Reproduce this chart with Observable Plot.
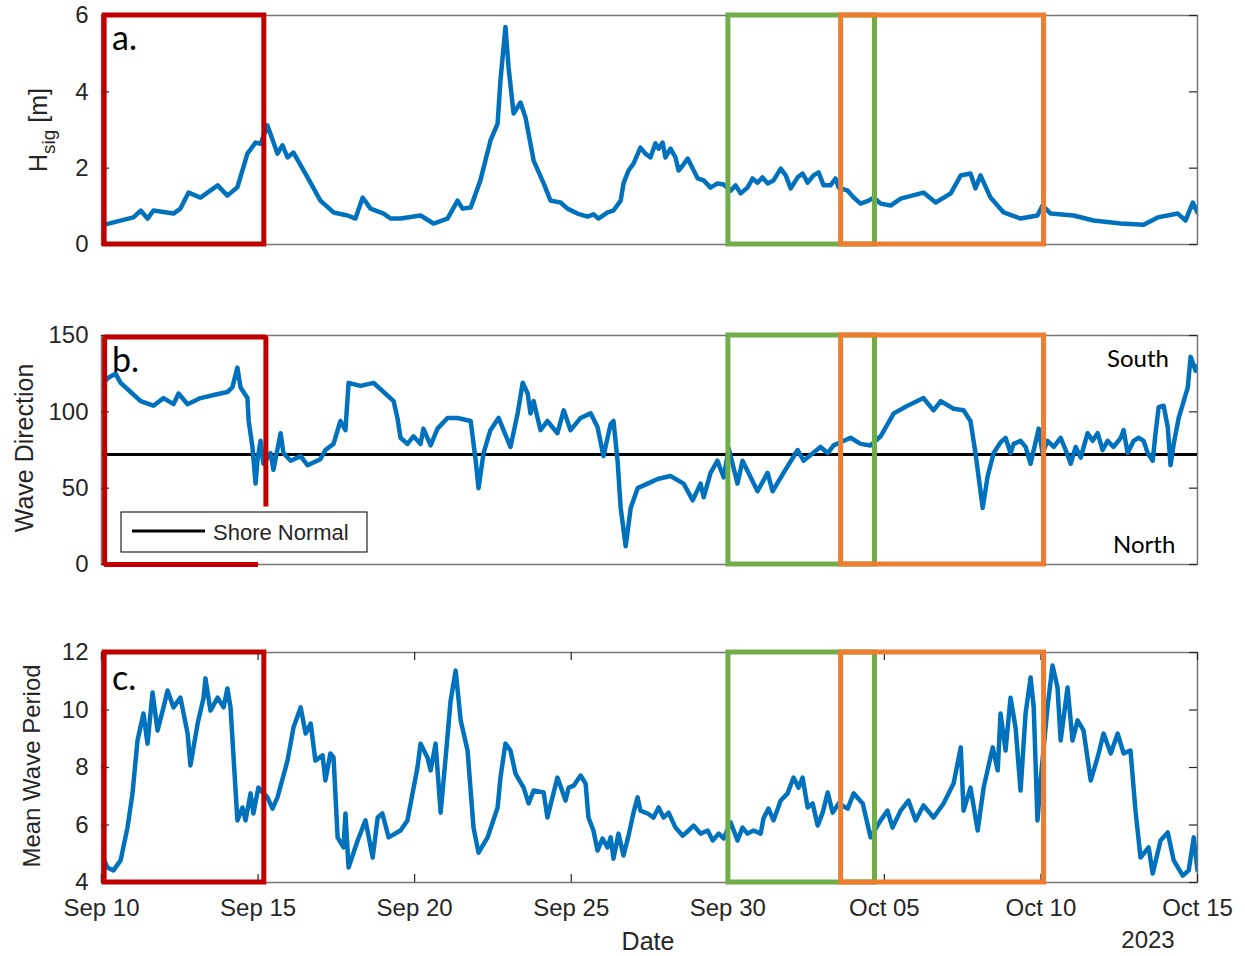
<!DOCTYPE html>
<html><head><meta charset="utf-8">
<script src="https://cdn.jsdelivr.net/npm/d3@7"></script>
<script src="https://cdn.jsdelivr.net/npm/@observablehq/plot@0.6"></script>
<style>
body{margin:0;background:#fff;}
#fig{position:relative;width:1245px;height:956px;background:#fff;overflow:hidden;}
.panel{position:absolute;left:0;}
.panel svg{overflow:visible;}
</style></head><body><div id="fig"></div>
<script>
// ---- data (days since 2023-09-10 00:00 UTC) ----
const hsigDays = [0,1.02,1.25,1.47,1.66,2.30,2.52,2.78,3.16,3.71,4.02,4.34,4.66,4.92,5.08,5.30,5.62,5.78,5.94,6.13,6.58,6.99,7.41,7.86,8.11,8.34,8.59,9.01,9.23,9.55,10.19,10.60,11.05,11.37,11.53,11.79,12.10,12.42,12.65,12.74,12.90,13.00,13.16,13.38,13.54,13.80,14.12,14.34,
  14.66,14.88,15.20,15.52,15.71,15.87,16.16,16.35,16.58,16.67,16.83,16.99,17.21,17.37,17.53,17.69,17.79,17.92,18.01,18.17,18.33,18.43,18.56,18.72,18.88,19.04,19.23,19.45,19.67,19.87,20.09,20.25,20.41,20.63,20.79,20.95,21.11,21.27,21.46,21.69,21.85,22.01,22.23,22.39,22.55,22.74,22.90,23.06,23.28,23.44,23.54,23.83,24.02,24.24,24.50,24.66,24.88,25.20,25.52,
  26.25,26.64,27.12,27.44,27.75,27.91,28.07,28.39,28.81,29.35,29.89,30.05,30.31,31.04,31.68,32.55,33.28,33.73,34.37,34.62,34.85,35.0];
const hsigVals = [0.5,0.71,0.89,0.68,0.89,0.81,0.94,1.36,1.23,1.55,1.28,1.5,2.38,2.67,2.64,3.12,2.38,2.6,2.28,2.41,1.76,1.15,0.84,0.76,0.68,1.23,0.94,0.81,0.68,0.68,0.76,0.55,0.68,1.15,0.94,0.97,1.68,2.72,3.17,4.3,5.7,4.64,3.43,3.72,3.33,2.2,1.6,1.15,
  1.10,0.94,0.81,0.73,0.79,0.68,0.84,0.89,1.15,1.60,1.94,2.12,2.54,2.38,2.28,2.65,2.51,2.67,2.28,2.51,2.28,1.94,2.07,2.25,1.99,1.73,1.68,1.49,1.6,1.57,1.41,1.55,1.34,1.49,1.73,1.62,1.76,1.6,1.68,1.99,1.81,1.47,1.76,1.86,1.62,1.81,1.89,1.55,1.55,1.73,1.49,1.41,1.23,1.07,1.15,1.23,1.07,1.02,1.2,
  1.36,1.1,1.34,1.81,1.86,1.47,1.81,1.23,0.84,0.68,0.76,1.02,0.81,0.76,0.63,0.55,0.52,0.71,0.81,0.63,1.1,0.84];

const dirDays = [0,0.19,0.45,0.61,0.93,1.25,1.66,1.98,2.30,2.46,2.75,3.16,3.58,4.02,4.18,4.34,4.44,4.66,4.70,4.82,4.92,4.98,5.08,5.17,5.40,5.49,5.72,5.81,6.04,6.36,6.58,6.99,7.15,7.41,7.63,7.79,7.89,8.27,8.69,9.01,9.33,9.45,9.55,9.77,9.96,10.19,10.28,10.51,10.73,11.05,11.37,11.79,11.95,12.04,12.20,12.42,12.68,13.06,13.29,13.45,13.61,13.70,13.80,14.02,14.24,14.56,14.76,14.98,15.30,15.62,15.84,16.03,16.26,16.35,16.48,16.58,16.74,16.90,17.12,17.44,17.76,18.17,18.59,18.88,19.13,19.23,19.45,19.67,19.87,20.03,20.31,20.47,20.95,21.27,21.43,21.78,22.23,22.42,22.96,23.19,23.38,23.92,24.24,24.56,24.88,25.30,25.74,26.25,26.57,26.80,27.21,27.53,27.75,27.91,28.14,
  28.30,28.49,28.71,28.87,29.03,29.13,29.35,29.51,29.67,29.77,29.93,30.05,30.21,30.41,30.63,30.79,30.95,31.11,31.27,31.49,31.65,31.81,31.97,32.13,32.32,32.55,32.64,32.77,32.96,33.12,33.28,33.41,33.57,33.66,33.76,33.92,34.05,34.14,34.24,34.40,34.56,34.69,34.78,34.94,35.0];
const dirVals = [117,122,125,119,113,107,104,109,105,112,105,109,111,113,116,129,116,109,94,77,53,68,81,66,73,62,86,73,68,71,65,69,75,79,94,88,119,117,119,113,107,96,83,79,84,79,89,78,89,96,96,94,68,50,73,88,96,77,99,119,112,99,107,88,94,86,101,88,96,99,90,71,92,94,68,37,12,37,50,53,56,58,53,42,53,44,60,68,57,76,53,68,48,60,48,60,75,68,77,73,78,83,79,78,84,99,104,109,101,107,102,101,94,73,37,
  58,73,80,83,73,79,81,77,66,75,89,73,81,77,83,75,66,77,70,86,81,86,75,81,77,83,88,73,81,83,81,73,68,86,103,104,90,65,79,96,107,116,136,127,130];

const perDays = [0,0.19,0.38,0.61,0.83,0.99,1.15,1.34,1.47,1.63,1.79,1.98,2.11,2.30,2.52,2.75,2.84,3.07,3.26,3.32,3.48,3.71,3.90,4.02,4.12,4.34,4.50,4.60,4.76,4.85,5.01,5.30,5.46,5.62,5.94,6.13,6.36,6.52,6.68,6.83,7.06,7.15,7.31,7.41,7.54,7.73,7.79,7.89,8.18,8.43,8.66,8.82,8.97,9.17,9.55,9.77,10.09,10.19,10.41,10.51,10.67,10.83,10.99,11.15,11.31,11.47,11.69,11.88,12.04,12.33,12.65,12.74,12.90,13.06,13.22,13.48,13.64,13.80,14.12,14.24,14.56,
  14.82,14.92,15.08,15.30,15.46,15.55,15.71,15.84,16.00,16.16,16.26,16.35,16.51,16.67,16.83,16.99,17.12,17.21,17.44,17.63,17.79,17.95,18.11,18.33,18.56,18.75,18.91,19.13,19.36,19.52,19.71,19.87,20.09,20.31,20.47,20.63,20.82,21.05,21.14,21.30,21.46,21.69,21.91,22.10,22.26,22.39,22.55,22.71,22.87,23.03,23.19,23.35,23.54,23.83,
  24.02,24.31,24.56,24.88,25.10,25.26,25.52,25.77,26.00,26.25,26.57,26.89,27.21,27.44,27.53,27.75,27.98,28.17,28.46,28.62,28.71,28.87,29.03,29.19,29.35,29.51,29.67,29.77,29.89,29.99,30.21,30.37,30.53,30.63,30.85,31.01,31.17,31.36,31.59,31.81,32.00,32.23,32.45,32.64,32.86,33.02,33.18,33.44,33.57,33.82,34.05,34.24,34.53,34.72,34.88,35.0];
const perVals = [5.0,4.52,4.42,4.77,5.91,7.1,8.94,9.88,8.83,10.61,9.29,10.09,10.68,10.09,10.43,9.18,8.07,9.53,10.43,11.1,9.98,10.43,10.09,10.75,10.09,6.16,6.61,6.16,7.1,6.4,7.3,6.96,6.57,6.96,8.24,9.39,10.09,9.18,9.53,8.24,8.42,7.55,8.49,8.35,5.57,5.22,6.4,4.52,5.46,6.16,4.87,6.26,6.4,5.57,5.81,6.16,8.0,8.83,8.35,7.9,8.83,6.43,8.35,10.33,11.37,9.64,8.59,5.91,5.04,5.57,6.61,7.65,8.83,8.59,7.79,7.3,6.75,7.2,7.13,6.26,7.65,
  6.85,7.3,7.37,7.72,7.44,6.26,5.81,5.11,5.53,5.22,5.57,4.83,5.7,4.94,5.63,6.43,6.96,6.5,6.4,6.26,6.61,6.26,6.43,5.91,5.63,5.81,5.98,5.7,5.81,5.46,5.7,5.53,6.09,5.46,5.91,5.7,5.81,5.7,6.23,6.57,6.16,6.85,7.1,7.65,7.3,7.65,6.61,6.75,5.98,6.43,7.13,6.43,6.75,6.57,
  7.1,6.75,5.57,6.16,6.5,5.91,6.5,6.85,6.16,6.68,6.26,6.75,7.44,8.7,6.5,7.3,5.81,7.3,8.7,7.9,9.88,8.59,10.43,9.39,7.2,9.88,11.13,10.09,6.16,7.55,10.09,11.55,10.78,8.94,10.78,8.94,9.64,9.29,7.55,8.35,9.18,8.49,9.18,8.49,8.59,6.5,4.87,5.22,4.31,5.46,5.74,4.77,4.24,4.42,5.57,4.42];

const shoreNormal = 72;
const hsigTicks = [0, 2, 4, 6];
const dirTicks = [0, 50, 100, 150];
const perTicks = [4, 6, 8, 10, 12];
const xTickDays = [0, 5, 10, 15, 20, 25, 30, 35];
const xTickLabels = ["Sep 10", "Sep 15", "Sep 20", "Sep 25", "Sep 30", "Oct 05", "Oct 10", "Oct 15"];

// highlighted windows (days since Sep 10)
const winColors = ["#C00000", "#70AD47", "#ED7D31"];
const winStart = [0.1, 20.02, 23.62];
const winEnd = [5.2, 24.7, 30.1];
// hand-drawn red outline in panel b (open shape)
const redBDays = [5.0, 0.1, 0.1, 5.25, 5.25];
const redBVals = [0, 0, 149, 149, 38];

// ---- helpers ----
const START = Date.UTC(2023, 8, 10);
const DAY = 864e5;
const toDate = d => new Date(START + d * DAY);
const W = 1245, ML = 101, MR = 48;
const x0 = toDate(0), xEnd = toDate(35);
const tickDays = 8 * 35 / (W - ML - MR);
const FONT = "Liberation Sans, Arial, Helvetica, sans-serif";
const ANN = "Lato, Carlito, sans-serif";
const INK = "#262626";

function series(days, vals) { return days.map((d, i) => ({t: toDate(d), v: vals[i]})); }

function makePanel({top, height, mt, mb, data, yDomain, yTicks, xAxis, extra = [], redOpen = false}) {
  const innerH = height - mt - mb;
  const yTick = 8 * (yDomain[1] - yDomain[0]) / innerH;
  const marks = [
    ...extra,
    Plot.line(data, {x: "t", y: "v", stroke: "#0072BD", strokeWidth: 4.5, strokeLinejoin: "round", clip: true}),
    Plot.frame({stroke: "#757575", strokeWidth: 1.5}),
    Plot.axisY({ticks: yTicks, tickSize: 0, tickPadding: 13, fontSize: 24, label: null, tickFormat: d => String(d)}),
    Plot.ruleY(yTicks, {x1: () => x0, x2: () => toDate(tickDays), stroke: INK, strokeWidth: 1.2}),
    Plot.ruleY(yTicks, {x1: () => toDate(35 - tickDays), x2: () => xEnd, stroke: INK, strokeWidth: 1.2})
  ];
  if (xAxis) {
    const xt = xTickDays.map(toDate);
    marks.push(
      Plot.axisX({ticks: xt, tickSize: 0, tickPadding: 16, fontSize: 24, label: null,
        tickFormat: d => xTickLabels[xTickDays.indexOf(Math.round((d - START) / DAY))]}),
      Plot.ruleX(xt, {y1: () => yDomain[0], y2: () => yDomain[0] + yTick, stroke: INK, strokeWidth: 1.2}),
      Plot.ruleX(xt, {y1: () => yDomain[1] - yTick, y2: () => yDomain[1], stroke: INK, strokeWidth: 1.2})
    );
  }
  winColors.forEach((c, i) => {
    if (i === 0 && redOpen) {
      marks.push(Plot.line(redBDays.map((d, k) => ({t: toDate(d), v: redBVals[k]})),
        {x: "t", y: "v", stroke: c, strokeWidth: 5, strokeLinejoin: "miter", strokeLinecap: "butt"}));
    } else {
      marks.push(Plot.rect([0], {x1: () => toDate(winStart[i]), x2: () => toDate(winEnd[i]),
        y1: () => yDomain[0], y2: () => yDomain[1], fill: "none", stroke: c, strokeWidth: 5, strokeLinejoin: "miter"}));
    }
  });
  const svg = Plot.plot({
    width: W, height, marginLeft: ML, marginRight: MR, marginTop: mt, marginBottom: mb,
    x: {type: "utc", domain: [x0, xEnd], axis: null, label: null},
    y: {domain: yDomain, axis: null, label: null},
    style: {fontFamily: FONT, color: INK, background: "transparent", overflow: "visible"},
    marks
  });
  const div = document.createElement("div");
  div.className = "panel";
  div.style.top = top + "px";
  div.appendChild(svg);
  document.getElementById("fig").appendChild(div);
  return d3.select(svg);
}

function txt(sel, x, y, s, {size = 24, family = FONT, anchor = "start", rotate = false, fill = INK, weight = "normal"} = {}) {
  const t = sel.append("text").attr("x", rotate ? 0 : x).attr("y", rotate ? 0 : y)
    .attr("font-family", family).attr("font-size", size).attr("fill", fill)
    .attr("font-weight", weight).attr("text-anchor", anchor).text(s);
  if (rotate) t.attr("transform", `translate(${x},${y}) rotate(-90)`);
  return t;
}

// ---- panel a ----
const A = makePanel({top: 0, height: 260, mt: 15, mb: 16, data: series(hsigDays, hsigVals),
  yDomain: [0, 6], yTicks: hsigTicks});
{
  const t = A.append("text").attr("transform", "translate(47,130) rotate(-90)")
    .attr("text-anchor", "middle").attr("font-family", FONT).attr("font-size", 25).attr("fill", INK);
  t.append("tspan").text("H");
  t.append("tspan").attr("font-size", 19).attr("dy", 8).text("sig");
  t.append("tspan").attr("dy", -8).text(" [m]");
}
txt(A, 112, 50, "a.", {size: 34, family: ANN, fill: "#000"});

// ---- panel b ----
const B = makePanel({top: 320, height: 260, mt: 15, mb: 16, data: series(dirDays, dirVals),
  yDomain: [0, 150], yTicks: dirTicks, redOpen: true,
  extra: [Plot.ruleY([shoreNormal], {stroke: "#000", strokeWidth: 3})]});
txt(B, 33, 128, "Wave Direction", {size: 25, anchor: "middle", rotate: true});
txt(B, 112, 52, "b.", {size: 34, family: ANN, fill: "#000"});
txt(B, 1107, 47, "South", {size: 24, family: ANN, fill: "#000"});
txt(B, 1113, 233, "North", {size: 24, family: ANN, fill: "#000"});
B.append("rect").attr("x", 121).attr("y", 192).attr("width", 246).attr("height", 40)
  .attr("fill", "#fff").attr("stroke", INK).attr("stroke-width", 1.2);
B.append("line").attr("x1", 132).attr("x2", 205).attr("y1", 211).attr("y2", 211)
  .attr("stroke", "#000").attr("stroke-width", 3);
txt(B, 213, 220, "Shore Normal", {size: 22});

// ---- panel c ----
const C = makePanel({top: 640, height: 316, mt: 12, mb: 74, data: series(perDays, perVals),
  yDomain: [4, 12], yTicks: perTicks, xAxis: true});
txt(C, 40, 126, "Mean Wave Period", {size: 24, anchor: "middle", rotate: true});
txt(C, 112, 50, "c.", {size: 34, family: ANN, fill: "#000"});
txt(C, 648, 310, "Date", {size: 25, anchor: "middle"});
txt(C, 1148, 308, "2023", {size: 24, anchor: "middle"});
</script></body></html>
